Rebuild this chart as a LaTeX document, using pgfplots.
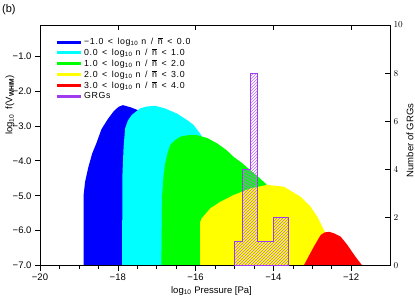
\documentclass[border=0pt]{standalone}
\usepackage{pgfplots}
\pgfplotsset{compat=1.18}
\usepackage{fontspec}
\setmainfont{Liberation Sans}
\newfontfamily\legfont[LetterSpace=7]{Liberation Sans}
\usetikzlibrary{patterns}
\definecolor{grg}{RGB}{160,60,240}
\definecolor{cblue}{RGB}{0,0,255}
\definecolor{ccyan}{RGB}{0,255,255}
\definecolor{cgreen}{RGB}{0,255,0}
\definecolor{cyellow}{RGB}{255,255,0}
\definecolor{cred}{RGB}{255,0,0}
\newcommand{\nbar}{$\overline{\mbox{\legfont n}}$}
\newcommand{\lgt}{log\textsubscript{10}}
\newcommand{\lt}{\ \,<\ \,}
\begin{document}
\begin{tikzpicture}
\useasboundingbox (-40pt,-34.3pt) rectangle (375pt,265.7pt);
\begin{axis}[
  scale only axis, width=350pt, height=240.7pt,
  at={(0pt,0pt)}, anchor=south west,
  xmin=-20, xmax=-11, ymin=-7, ymax=-0.12,
  axis on top,
  axis line style={line width=0.6pt},
  tick align=outside, xtick pos=lower, ytick pos=left,
  xtick={-20,-18,-16,-14,-12}, xticklabels={−20,−18,−16,−14,−12},
  minor x tick num=3,
  ytick={-7,-6,-5,-4,-3,-2,-1}, yticklabels={−7.0,−6.0,−5.0,−4.0,−3.0,−2.0,−1.0},
  major tick length=5pt, minor tick length=3pt,
  tick style={black, line width=0.5pt},
  ticklabel style={font=\fontsize{9.5}{11}\selectfont},
  xlabel={\lgt\ Pressure [Pa]},
  xlabel style={at={(axis description cs:0.49,-0.105)}, anchor=center, font=\fontsize{9.5}{11}\selectfont},
  ylabel={\lgt\ \ f(V\textsubscript{\textbf{WHIM}})},
  ylabel style={at={(axis description cs:-0.086,0.668)}, anchor=center, font=\fontsize{9.5}{11}\selectfont},
  legend style={at={(axis description cs:0.043,0.955)}, anchor=north west, draw=none, fill=none,
    font=\legfont\fontsize{8.8}{10}\selectfont, row sep=-1.4pt, inner sep=0pt,
    legend cell align=left},
  legend image code/.code={\draw[#1, line width=3pt] (0pt,0pt) -- (24pt,0pt);},
]
\addlegendimage{cblue}
\addlegendentry{−1.0\lt\lgt\ n \,/\, \nbar\lt0.0}
\addlegendimage{ccyan}
\addlegendentry{0.0\lt\lgt\ n \,/\, \nbar\lt1.0}
\addlegendimage{cgreen}
\addlegendentry{1.0\lt\lgt\ n \,/\, \nbar\lt2.0}
\addlegendimage{cyellow}
\addlegendentry{2.0\lt\lgt\ n \,/\, \nbar\lt3.0}
\addlegendimage{cred}
\addlegendentry{3.0\lt\lgt\ n \,/\, \nbar\lt4.0}
\addlegendimage{grg}
\addlegendentry{GRGs}
% blue
\addplot[fill=cblue, draw=none, forget plot] coordinates {
 (-18.88,-7) (-18.88,-5.0) (-18.84,-4.6) (-18.76,-4.2) (-18.66,-3.8) (-18.55,-3.5)
 (-18.42,-3.1) (-18.25,-2.8) (-18.1,-2.58) (-17.98,-2.46) (-17.87,-2.41)
 (-17.65,-2.48) (-17.47,-2.56) (-17.4,-2.7) (-17.5,-7)} -- cycle;
% cyan
\addplot[fill=ccyan, draw=none, forget plot] coordinates {
 (-17.89,-7) (-17.88,-4.4) (-17.85,-3.6) (-17.81,-3.07) (-17.74,-2.85) (-17.64,-2.69)
 (-17.42,-2.5) (-17.25,-2.45) (-17.04,-2.43) (-16.8,-2.5) (-16.48,-2.65) (-16.2,-2.85)
 (-16.05,-2.98) (-15.9,-3.2) (-15.75,-3.45) (-15.6,-3.8) (-15.6,-7)} -- cycle;
% green
\addplot[fill=cgreen, draw=none, forget plot] coordinates {
 (-16.88,-7) (-16.86,-5.0) (-16.82,-4.4) (-16.78,-4.07) (-16.72,-3.78) (-16.65,-3.55)
 (-16.55,-3.43) (-16.39,-3.31) (-16.2,-3.27) (-15.96,-3.27) (-15.7,-3.35) (-15.45,-3.5)
 (-15.2,-3.7) (-15.02,-3.89) (-14.8,-4.07) (-14.59,-4.27) (-14.4,-4.45) (-14.2,-4.65)
 (-14.0,-4.9) (-13.9,-5.3) (-14.0,-7)} -- cycle;
% yellow
\addplot[fill=cyellow, draw=none, forget plot] coordinates {
 (-15.88,-7) (-15.88,-5.75) (-15.84,-5.64) (-15.79,-5.58) (-15.62,-5.36) (-15.36,-5.17)
 (-15.02,-4.98) (-14.59,-4.79) (-14.16,-4.69) (-13.73,-4.74) (-13.3,-5.03) (-13.05,-5.3)
 (-12.87,-5.6) (-12.7,-5.98) (-12.55,-6.3) (-12.4,-7)} -- cycle;
% red
\addplot[fill=cred, draw=none, forget plot] coordinates {
 (-13.22,-7) (-13.1,-6.75) (-12.96,-6.46) (-12.85,-6.25) (-12.78,-6.12) (-12.68,-6.05)
 (-12.57,-6.03) (-12.45,-6.07) (-12.27,-6.17) (-12.1,-6.4) (-12.01,-6.55) (-11.85,-6.8)
 (-11.71,-7)} -- cycle;
\end{axis}
\begin{axis}[
  scale only axis, width=350pt, height=240.7pt,
  at={(0pt,0pt)}, anchor=south west,
  xmin=-20, xmax=-11, ymin=0, ymax=10,
  axis line style={line width=0.6pt},
  tick align=inside, xtick pos=upper, ytick pos=right, yticklabel pos=right,
  xtick={-18,-16,-14,-12}, xticklabels={},
  ytick={0,2,4,6,8,10},
  major tick length=5pt,
  tick style={black, line width=0.5pt},
  ticklabel style={font=\fontsize{9.5}{11}\selectfont},
  ylabel={Number of GRGs},
  ylabel style={at={(axis description cs:1.057,0.52)}, anchor=center, font=\fontsize{9.5}{11}\selectfont},
]
\addplot[draw=grg, line width=0.8pt, pattern=north east lines, pattern color=grg!75] coordinates {
 (-15.0,0) (-15.0,1) (-14.8,1) (-14.8,4) (-14.6,4) (-14.6,8) (-14.4,8) (-14.4,1)
 (-14.0,1) (-14.0,2) (-13.6,2) (-13.6,0)} -- cycle;
\end{axis}
\node[anchor=north west, inner sep=0pt, font=\fontsize{11}{13}\selectfont] at (-38pt,261pt) {(b)};
\end{tikzpicture}
\end{document}
